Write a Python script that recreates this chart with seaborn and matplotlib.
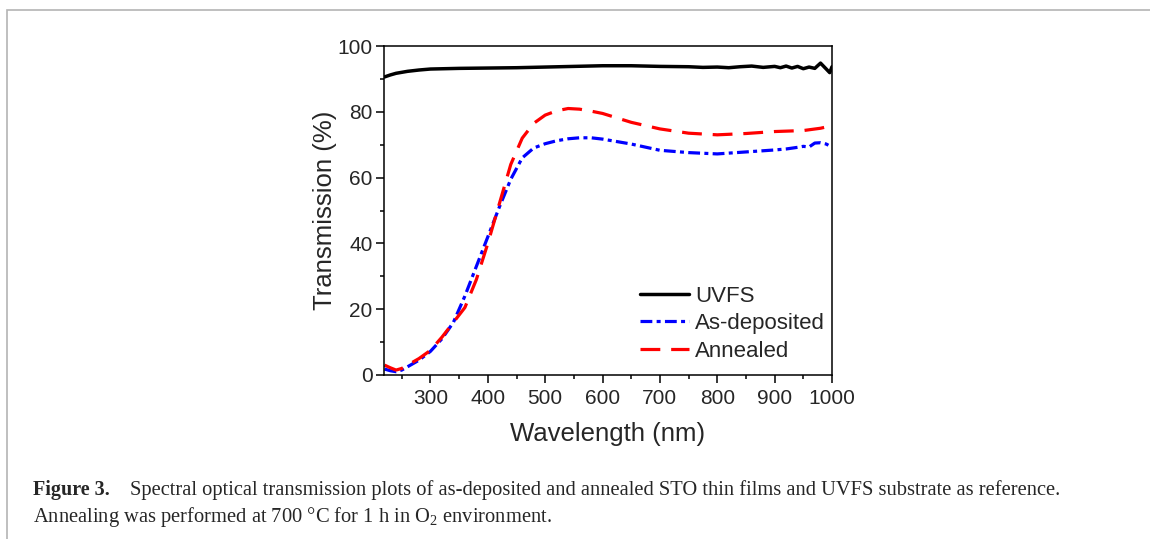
import numpy as np
import pandas as pd
import seaborn as sns
import matplotlib
import matplotlib.pyplot as plt
from matplotlib.ticker import MultipleLocator
from matplotlib.patches import Rectangle

sns.set_style('white')
matplotlib.rcParams['font.family'] = ['Liberation Sans', 'DejaVu Sans']
matplotlib.rcParams['mathtext.fontset'] = 'custom'
matplotlib.rcParams['mathtext.rm'] = 'Liberation Serif'

# valores
wl_uvfs = [220, 230, 240, 260, 280, 300, 350, 400, 450, 500, 550, 600, 650, 700, 750, 775,
           800, 820, 840, 860, 880, 900, 910, 920, 930, 940, 950, 960, 970, 980, 985, 990, 996, 1000]
t_uvfs = [90.6, 91.2, 91.7, 92.3, 92.7, 93.0, 93.2, 93.3, 93.4, 93.6, 93.8, 94.0, 94.0, 93.8, 93.7, 93.5,
          93.6, 93.4, 93.7, 93.9, 93.5, 93.8, 93.4, 93.9, 93.3, 93.8, 93.1, 93.6, 93.2, 94.8, 93.9, 93.0, 91.9, 93.7]

wl_asdep = [220, 230, 240, 250, 260, 280, 300, 320, 340, 360, 380, 400, 420, 440, 460, 480, 500,
            520, 540, 560, 580, 600, 650, 700, 750, 800, 850, 900, 920, 940, 950, 960, 970, 980, 990, 1000]
t_asdep = [1.8, 1.3, 1.0, 1.5, 2.5, 4.5, 7.2, 11.0, 16.0, 24.0, 33.0, 42.0, 51.0, 59.5, 66.0, 69.0, 70.3,
           71.2, 71.8, 72.1, 72.1, 71.7, 70.2, 68.3, 67.6, 67.2, 67.8, 68.4, 68.7, 69.2, 69.5, 69.3, 70.5, 70.6, 70.2, 69.2]

wl_ann = [220, 230, 240, 250, 260, 280, 300, 320, 340, 360, 380, 400, 420, 440, 460, 480, 500,
          520, 540, 560, 580, 600, 650, 700, 750, 800, 850, 900, 950, 980, 1000]
t_ann = [3.0, 2.2, 1.5, 2.0, 3.0, 5.0, 7.5, 11.5, 16.0, 20.5, 29.0, 40.0, 52.0, 64.0, 72.0, 76.5, 79.0,
         80.3, 81.0, 80.8, 80.2, 79.5, 76.8, 74.8, 73.5, 73.0, 73.4, 74.0, 74.3, 75.0, 75.8]

fig = plt.figure(figsize=(11.5, 5.39), dpi=100)
ax = fig.add_axes([384 / 1150, 1 - 375 / 539, 448 / 1150, 329 / 539])

sns.lineplot(x=wl_uvfs, y=t_uvfs, color='black', lw=2.5, label='UVFS', ax=ax)
sns.lineplot(x=wl_asdep, y=t_asdep, color='#0000ff', lw=2.3, label='As-deposited',
             linestyle=(0, (3.7, 1.35, 1.25, 1.35)), ax=ax)
sns.lineplot(x=wl_ann, y=t_ann, color='#ff0000', lw=2.3, label='Annealed',
             linestyle=(0, (6.2, 3.4)), ax=ax)

ax.set_xlim(219, 1000)
ax.set_ylim(0, 100)
ax.xaxis.set_major_locator(MultipleLocator(100))
ax.xaxis.set_minor_locator(MultipleLocator(50))
ax.yaxis.set_major_locator(MultipleLocator(20))
ax.yaxis.set_minor_locator(MultipleLocator(10))
ax.tick_params(which='major', direction='out', length=5.8, width=1.1, labelsize=15, color='black',
               bottom=True, left=True, top=False, right=False)
ax.tick_params(which='minor', direction='out', length=3, width=1.1, color='black',
               bottom=True, left=True, top=False, right=False)
ax.tick_params(axis='x', which='major', pad=4.5)
ax.tick_params(axis='y', which='major', pad=2.5)
for s in ax.spines.values():
    s.set_color('black')
    s.set_linewidth(1.1)

ax.set_xlabel('Wavelength (nm)', fontsize=18.5, labelpad=10)
ax.set_ylabel('Transmission (%)', fontsize=18.5, labelpad=0.5)

ax.legend(loc='upper left', bbox_to_anchor=(0.571, 0.272), frameon=False, fontsize=16,
          handlelength=2.2, handletextpad=0.3, labelspacing=0.3, borderpad=0, borderaxespad=0)

# moldura e legenda da figura
fig.add_artist(Rectangle((7 / 1150, -0.5), 2, 1.5 - 10 / 539, transform=fig.transFigure,
                         fill=False, edgecolor='#b4b4b4', lw=1.2))
y1 = 1 - 495 / 539
y2 = 1 - 522 / 539
fig.text(33 / 1150, y1, 'Figure 3.', fontsize=14.5, fontweight='bold', family='Liberation Serif', va='baseline')
fig.text(130 / 1150, y1, 'Spectral optical transmission plots of as-deposited and annealed STO thin films '
         'and UVFS substrate as reference.', fontsize=14.8, family='Liberation Serif', va='baseline')
fig.text(33 / 1150, y2, r'Annealing was performed at 700 °C for 1 h in O$_2$ environment.',
         fontsize=14.8, family='Liberation Serif', va='baseline')

fig.savefig('out.png', dpi=100)
